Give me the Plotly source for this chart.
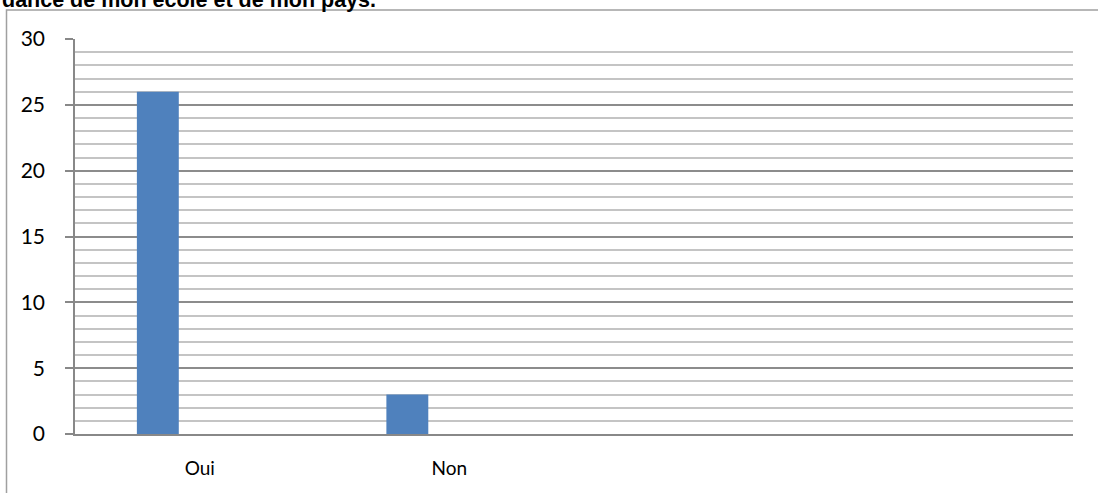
import plotly.graph_objects as go

categories = ["Oui", "Non"]
values = [26, 3]
y_ticks = [0, 5, 10, 15, 20, 25, 30]
title_text = "dance de mon école et de mon pays."

W, H = 1098, 493
L, R, T, B = 75, 25, 39, 59
pw = W - L - R
ph = H - T - B

def px_x(p):
    return (p - L) / pw

def px_y(p):
    return (H - B - p) / ph

fig = go.Figure()
fig.add_trace(go.Bar(
    x=categories, y=values,
    marker=dict(color="#4F81BD", line=dict(width=0)),
    width=0.168, offset=-0.252,
    showlegend=False,
))

fig.update_layout(
    width=W, height=H,
    margin=dict(l=L, r=R, t=T, b=B),
    paper_bgcolor="white", plot_bgcolor="white",
    font=dict(family="Lato, Liberation Sans, sans-serif", color="black"),
    xaxis=dict(
        type="category", range=[-0.5, 3.5],
        showgrid=False, zeroline=False,
        showline=True, linecolor="#888888", linewidth=1.5,
        ticks="", tickfont=dict(size=19),
        ticklabelstandoff=16,
    ),
    yaxis=dict(
        range=[0, 30], tickvals=y_ticks,
        showgrid=True, gridcolor="#8c8c8c", gridwidth=1.5,
        minor=dict(dtick=1, showgrid=True, gridcolor="#c4c4c4", gridwidth=1.5, ticks=""),
        zeroline=False,
        showline=True, linecolor="#888888", linewidth=1.5,
        ticks="outside", ticklen=8, tickcolor="#888888", tickwidth=1.5,
        tickfont=dict(size=21), ticklabelstandoff=16,
    ),
    shapes=[dict(
        type="rect", xref="paper", yref="paper",
        x0=px_x(6.5), x1=px_x(W + 10), y0=px_y(H + 10), y1=px_y(10),
        line=dict(color="#a0a0a0", width=1.5), fillcolor="rgba(0,0,0,0)",
        layer="below",
    )],
    annotations=[dict(
        text="<b>" + title_text + "</b>", xref="paper", yref="paper",
        x=px_x(0), y=px_y(0), xanchor="left", yanchor="middle",
        showarrow=False, font=dict(family="Liberation Sans, Arial", size=21.5, color="black"),
    )],
)

fig.write_html(
    "out.html",
    config={"displayModeBar": False},
    post_script="document.body.style.margin='0';document.body.style.overflow='hidden';",
)
